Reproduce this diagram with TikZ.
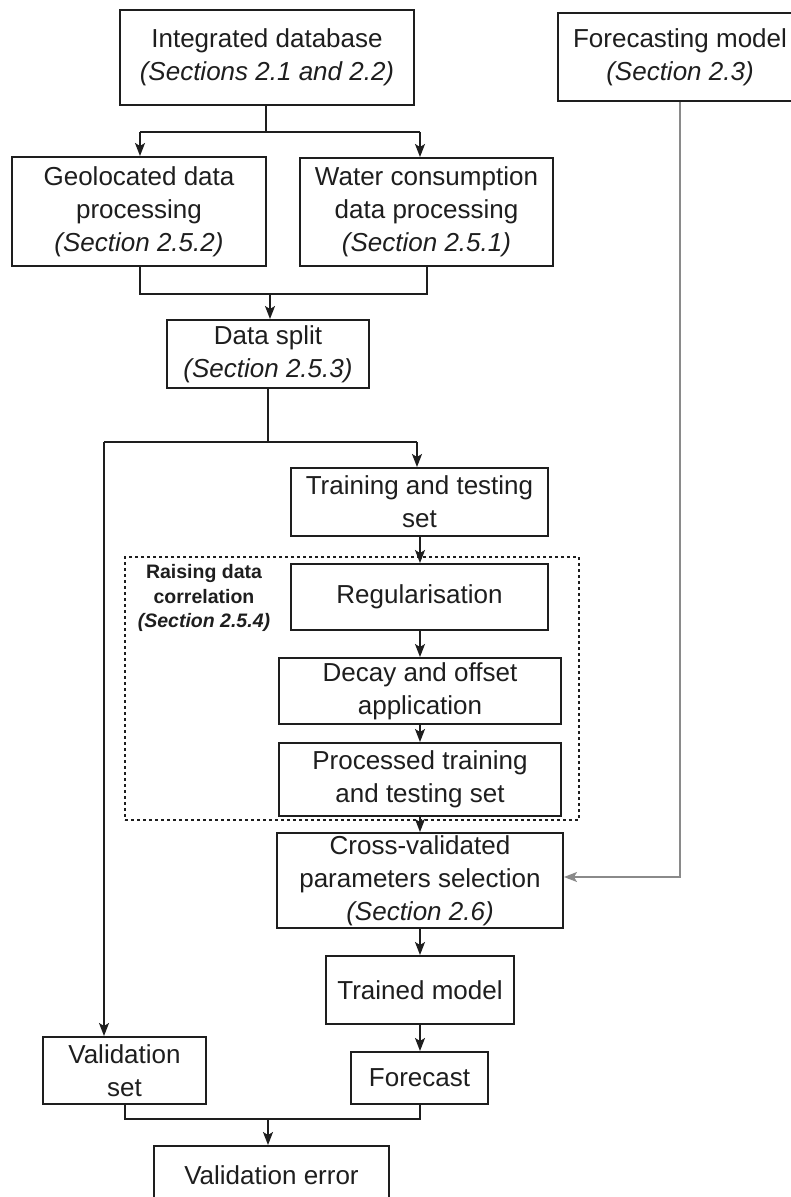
\documentclass[tikz,border=0pt]{standalone}
\usepackage{fontspec}
\setmainfont{Liberation Sans}
\usetikzlibrary{arrows.meta}
\definecolor{ink}{HTML}{1E1E1E}
\definecolor{greyln}{HTML}{8A8A8A}
\begin{document}
\begin{tikzpicture}[x=1pt,y=-1pt,
  box/.style={draw=ink, line width=2pt, align=center, inner sep=0pt, text=ink,
              font=\fontsize{26}{33}\selectfont},
  arr/.style={draw=ink, line width=1.6pt, -{Stealth[length=13pt,width=10pt,inset=3pt]}},
  ln/.style={draw=ink, line width=1.6pt},
  greyarr/.style={draw=greyln, line width=1.3pt, -{Stealth[length=13pt,width=10pt,inset=3pt]}}]
\useasboundingbox (0,0) rectangle (791,1197);
\fill[white] (0,0) rectangle (791,1197);

% group (dashed)
\node[draw=ink, line width=1.4pt, dash pattern=on 3pt off 3pt, minimum width=454pt, minimum height=263pt, inner sep=0pt] (grp) at (352,688.5) {};
\node[align=center, inner sep=0pt, text=ink, font=\bfseries\fontsize{19.5}{24.5}\selectfont] (lbl) at (204,598) {Raising data\\correlation\\\textit{(Section 2.5.4)}};

% nodes
\node[box, minimum width=294pt, minimum height=95pt] (intdb) at (267,57.5) {Integrated database\\\textit{(Sections 2.1 and 2.2)}};
\node[box, minimum width=244pt, minimum height=88pt] (fmodel) at (680,57) {Forecasting model\\\textit{(Section 2.3)}};
\node[box, minimum width=254pt, minimum height=109pt] (geo) at (139,211.5) {Geolocated data\\processing\\\textit{(Section 2.5.2)}};
\node[box, minimum width=253pt, minimum height=108pt] (water) at (426.5,212) {Water consumption\\data processing\\\textit{(Section 2.5.1)}};
\node[box, minimum width=202pt, minimum height=68pt] (split) at (268,354) {Data split\\\textit{(Section 2.5.3)}};
\node[box, minimum width=257pt, minimum height=68pt] (train) at (419.5,502) {Training and testing\\set};
\node[box, minimum width=257pt, minimum height=66pt] (reg) at (419.5,597) {Regularisation};
\node[box, minimum width=282pt, minimum height=66pt] (decay) at (420,691) {Decay and offset\\application};
\node[box, minimum width=282pt, minimum height=73pt] (proc) at (420,779.5) {Processed training\\and testing set};
\node[box, minimum width=286pt, minimum height=95pt] (cross) at (420,880.5) {Cross-validated\\parameters selection\\\textit{(Section 2.6)}};
\node[box, minimum width=188pt, minimum height=68pt] (trained) at (420,990) {Trained model};
\node[box, minimum width=137pt, minimum height=52pt] (forecast) at (419.5,1078) {Forecast};
\node[box, minimum width=163pt, minimum height=67pt] (valset) at (124.5,1070.5) {Validation\\set};
\node[box, minimum width=235pt, minimum height=58pt] (valerr) at (271.5,1175) {Validation error};

% junction coordinates
\coordinate (j1) at (266,132);
\coordinate (j1l) at (140,132);
\coordinate (j1r) at (420,132);
\coordinate (j2l) at (140,294);
\coordinate (j2r) at (427,294);
\coordinate (j2) at (270,294);
\coordinate (j3) at (268,442);
\coordinate (j3l) at (104,442);
\coordinate (j3r) at (417,442);
\coordinate (j4l) at (125,1119);
\coordinate (j4r) at (420,1119);
\coordinate (j4) at (268,1119);
\coordinate (jf) at (680,877);

% connectors
\draw[ln] (intdb.south -| j1) -- (j1);
\draw[ln] (j1l) -- (j1r);
\draw[arr] (j1l) -- (geo.north -| j1l);
\draw[arr] (j1r) -- (water.north -| j1r);

\draw[ln] (geo.south -| j2l) -- (j2l) -- (j2r) -- (water.south -| j2r);
\draw[arr] (j2) -- (split.north -| j2);

\draw[ln] (split.south -| j3) -- (j3);
\draw[ln] (j3l) -- (j3r);
\draw[arr] (j3r) -- (train.north -| j3r);
\draw[arr] (j3l) -- (valset.north -| j3l);

\draw[arr] (train.south -| proc.center) -- (reg.north -| proc.center);
\draw[arr] (reg.south -| proc.center) -- (decay.north -| proc.center);
\draw[arr] (decay.south) -- (proc.north);
\draw[arr] (proc.south) -- (cross.north);
\draw[arr] (cross.south) -- (trained.north);
\draw[arr] (trained.south) -- (forecast.north -| trained.south);

\draw[greyarr] (fmodel.south -| jf) -- (jf) -- (cross.east |- jf);

\draw[ln] (valset.south -| j4l) -- (j4l) -- (j4r) -- (forecast.south -| j4r);
\draw[arr] (j4) -- (valerr.north -| j4);
\end{tikzpicture}
\end{document}
